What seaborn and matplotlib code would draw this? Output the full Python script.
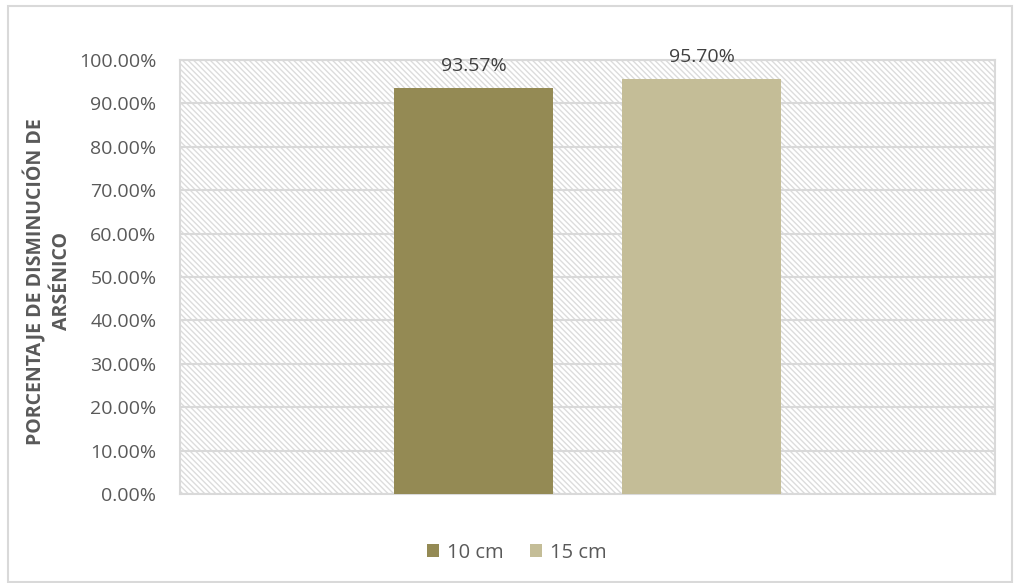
import matplotlib
matplotlib.use('Agg')
import matplotlib.pyplot as plt
from matplotlib.patches import Rectangle
from matplotlib.ticker import FuncFormatter
import seaborn as sns
import pandas as pd

# data
categoria = ['Arsénico', 'Arsénico']
espesor = ['10 cm', '15 cm']
porcentaje = [93.57, 95.70]
colores = ['#948A54', '#C4BD97']

sns.set_style('white')
plt.rcParams['font.family'] = ['Open Sans', 'DejaVu Sans']
plt.rcParams['hatch.linewidth'] = 1.0
plt.rcParams['hatch.color'] = '#dcdcdc'

df = pd.DataFrame({'cat': categoria, 'espesor': espesor, 'pct': porcentaje})

fig = plt.figure(figsize=(10.14, 5.83), dpi=100)
ax = fig.add_axes([180/1014, 89/583, 815/1014, 434/583])

# hatched background of the plot area
ax.patch.set_facecolor('white')
ax.patch.set_hatch('\\\\\\\\\\\\')
ax.patch.set_edgecolor('#dcdcdc')

sns.barplot(data=df, x='cat', y='pct', hue='espesor', palette=colores,
            width=0.56, gap=0.3, saturation=1, linewidth=0, ax=ax, zorder=3)

ax.set_ylim(0, 100)
ax.set_xlim(-0.5, 0.5)
ax.set_yticks(range(0, 101, 10))
ax.yaxis.set_major_formatter(FuncFormatter(lambda v, p: f'{v:.2f}%'))
ax.tick_params(axis='y', labelsize=14, colors='#595959', length=0, pad=17)
ax.set_xticks([])
ax.set_xlabel('')
ax.grid(axis='y', color='#d9d9d9', linewidth=1.5, zorder=1)
ax.set_axisbelow(True)
for s in ax.spines.values():
    s.set_color('#d9d9d9')
    s.set_linewidth(1.5)

ax.set_ylabel('PORCENTAJE DE DISMINUCIÓN DE\nARSÉNICO', fontsize=14,
              fontweight='bold', color='#595959', linespacing=1.4)
ax.yaxis.set_label_coords(-0.132, 0.49)

for cont in ax.containers:
    ax.bar_label(cont, fmt='%.2f%%', fontsize=14, color='#404040', padding=9)

leg = ax.legend(loc='upper center', bbox_to_anchor=(0.413, -0.07), ncol=2,
                frameon=False, fontsize=14.5, handlelength=0.6, handleheight=0.6,
                handletextpad=0.4, columnspacing=1.3)
for t in leg.get_texts():
    t.set_color('#595959')

# outer chart border
fig.patches.append(Rectangle((8/1014, 1/583), 1004/1014, 576/583,
                             transform=fig.transFigure, fill=False,
                             edgecolor='#d9d9d9', linewidth=1.5))

fig.savefig('out.png', dpi=100)
